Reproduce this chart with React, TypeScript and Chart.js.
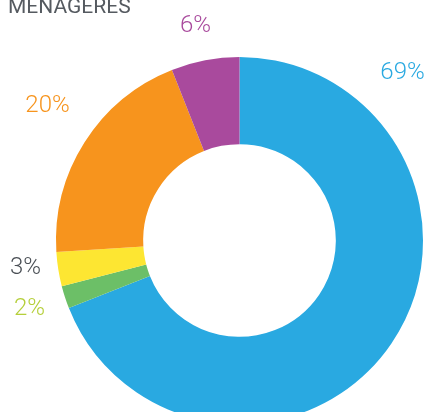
import React, { useEffect, useRef } from "react";
import { Chart, registerables } from "chart.js";

Chart.register(...registerables);

const title = "MENAGERES";
const categories = ["A", "B", "C", "D", "E"];
const values = [69, 2, 3, 20, 6];
const sliceColors = ["#29a9e1", "#6cbf67", "#fde632", "#f7941d", "#a94a9d"];
const labelTexts = ["69%", "2%", "3%", "20%", "6%"];
const labelColors = ["#29a9e1", "#b5cf3a", "#4a4f55", "#f7941d", "#a94a9d"];
// label centre offsets relative to doughnut centre (layout only)
const labelOffsets: [number, number][] = [
  [163, -168],
  [-210, 68],
  [-214, 27],
  [-192, -135],
  [-44, -215],
];

const labelPlugin = {
  id: "labelPlugin",
  afterDraw(chart: any) {
    const ctx = chart.ctx;
    const arc = chart.getDatasetMeta(0).data[0];
    const cx = arc.x;
    const cy = arc.y;
    ctx.save();
    ctx.textAlign = "center";
    ctx.textBaseline = "middle";
    ctx.font = "300 24px Roboto, sans-serif";
    labelTexts.forEach((t, i) => {
      ctx.fillStyle = labelColors[i];
      ctx.fillText(t, cx + labelOffsets[i][0], cy + labelOffsets[i][1]);
    });
    ctx.fillStyle = "#555a60";
    ctx.textAlign = "left";
    ctx.textBaseline = "alphabetic";
    ctx.font = "400 21px Roboto, sans-serif";
    ctx.fillText(title, 8, 13);
    ctx.restore();
  },
};

export default function App() {
  const ref = useRef<HTMLCanvasElement>(null);
  useEffect(() => {
    if (!ref.current) return;
    const chart = new Chart(ref.current, {
      type: "doughnut",
      data: {
        labels: categories,
        datasets: [
          {
            data: values,
            backgroundColor: sliceColors,
            borderWidth: 0,
          },
        ],
      },
      options: {
        animation: false,
        responsive: false,
        cutout: "52.5%",
        layout: { padding: { left: 56, right: 4, top: 57, bottom: 16 } },
        plugins: {
          legend: { display: false },
          tooltip: { enabled: false },
          title: { display: false },
        },
      },
      plugins: [labelPlugin],
    });
    return () => chart.destroy();
  }, []);
  return (
    <div style={{ position: "fixed", left: 0, top: 0, width: 427, height: 412, overflow: "hidden", background: "#fff" }}>
      <canvas ref={ref} width={427} height={440} style={{ display: "block" }} />
    </div>
  );
}
